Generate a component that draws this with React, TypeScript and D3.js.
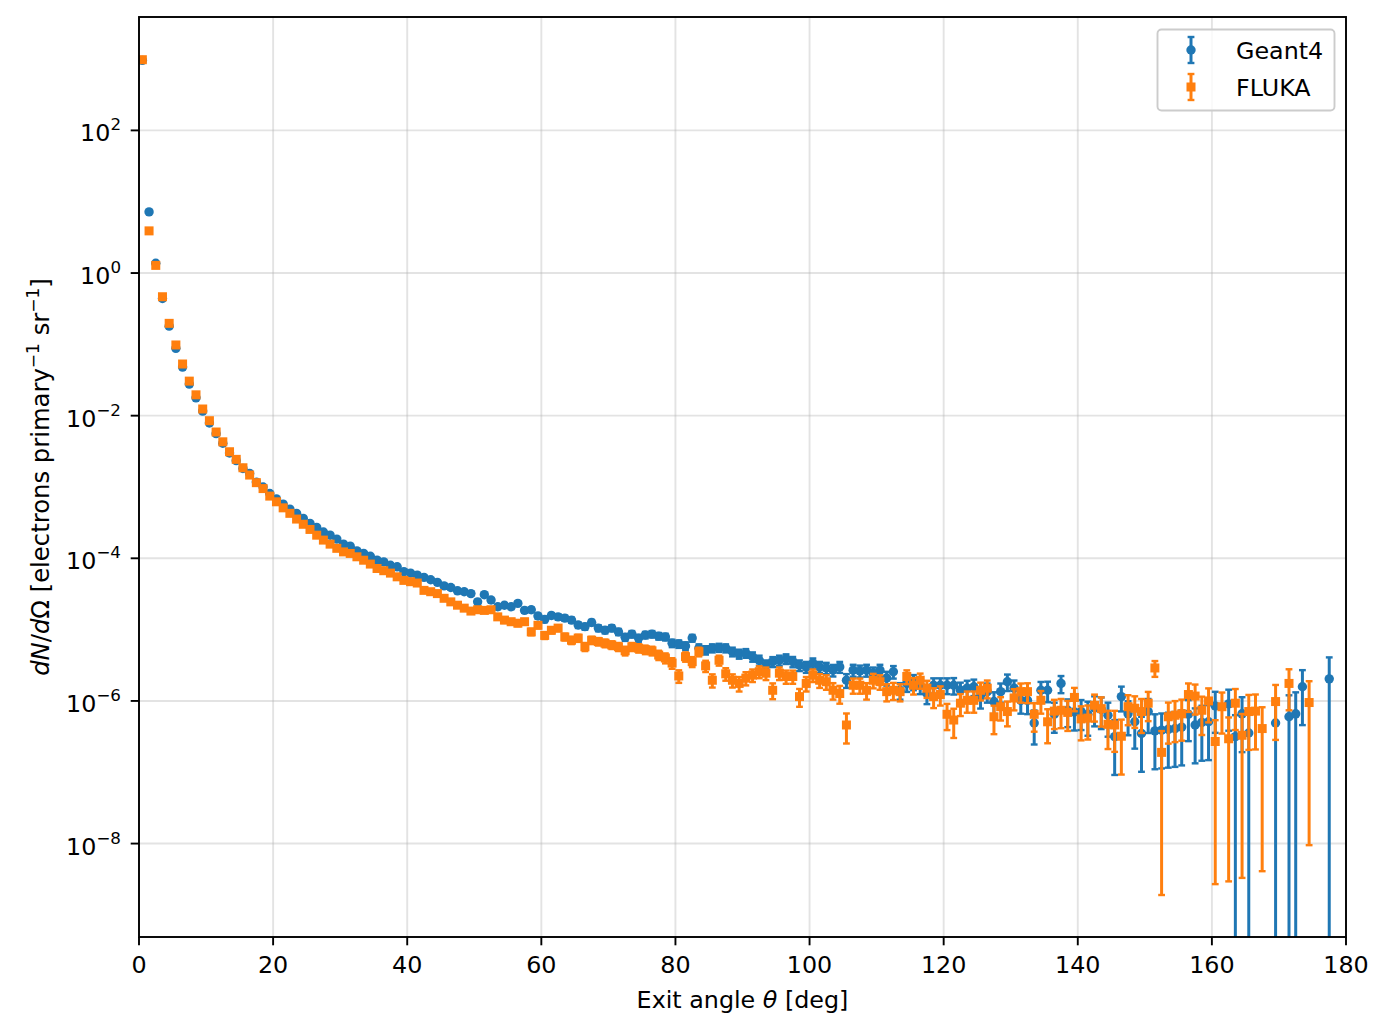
import React from "react";
import * as d3 from "d3";

// 1 degree bins, centres 0.5 ... 179.5
const binCenters = d3.range(0.5, 180, 1);

// dN/dOmega (null = empty bin)
const geant4: (number | null)[] = [
  9.6e2, 7.2, 1.37, 0.44, 0.18, 0.088, 0.048, 0.0277, 0.0178, 0.0116,
  0.0079, 0.0056, 0.0041, 0.003, 0.00234, 0.00182, 0.00155, 0.00117, 0.001, 8.1e-4,
  6.8e-4, 5.75e-4, 4.9e-4, 4.27e-4, 3.63e-4, 3.09e-4, 2.71e-4, 2.34e-4, 2.11e-4, 1.86e-4,
  1.58e-4, 1.48e-4, 1.27e-4, 1.17e-4, 1.07e-4, 9.44e-5, 8.9e-5, 8.0e-5, 7.6e-5, 6.5e-5,
  6.2e-5, 5.8e-5, 5.4e-5, 5.0e-5, 4.6e-5, 4.1e-5, 3.9e-5, 3.5e-5, 3.4e-5, 3.2e-5,
  2.45e-5, 3.09e-5, 2.6e-5, 2.09e-5, 2.2e-5, 2.09e-5, 2.33e-5, 1.86e-5, 1.9e-5, 1.55e-5,
  1.39e-5, 1.58e-5, 1.51e-5, 1.45e-5, 1.36e-5, 1.16e-5, 1.1e-5, 1.26e-5, 1.05e-5, 9.8e-6,
  1.05e-5, 9.3e-6, 7.8e-6, 8.65e-6, 7.6e-6, 8.4e-6, 8.65e-6, 8.1e-6, 7.9e-6, 6.45e-6,
  6.3e-6, 5.9e-6, 7.6e-6, 5.5e-6, 5.16e-6, 5.5e-6, 5.6e-6, 5.5e-6, 4.9e-6, 4.57e-6,
  4.68e-6, 4.17e-6, 3.72e-6, 3.16e-6, 3.55e-6, 3.72e-6, 3.9e-6, 3.55e-6, 3.16e-6, 3.0e-6,
  3.4e-6, 3.0e-6, 2.9e-6, 2.7e-6, 3.0e-6, 1.95e-6, 2.7e-6, 2.63e-6, 2.7e-6, 2.45e-6,
  2.7e-6, 2.1e-6, 2.57e-6, 1.41e-6, 1.76e-6, 1.86e-6, 1.66e-6, 1.27e-6, 1.66e-6, 1.66e-6,
  1.66e-6, 1.66e-6, 1.41e-6, 1.51e-6, 1.58e-6, 1.15e-6, 1.35e-6, 9.8e-7, 1.35e-6, 1.86e-6,
  1.51e-6, 1.02e-6, 1.02e-6, 4.9e-7, 1.41e-6, 1.41e-6, 6.5e-7, 1.76e-6, 7.4e-7, 7.0e-7,
  7.1e-7, 6.5e-7, 8.0e-7, 7.6e-7, 6.3e-7, 3.16e-7, 1.15e-6, 6.6e-7, 5.1e-7, 3.5e-7,
  7.1e-7, 3.8e-7, 3.9e-7, 4.0e-7, 4.1e-7, 4.3e-7, 6.5e-7, 4.6e-7, 5.0e-7, 5.1e-7,
  8.5e-7, null, 9.1e-7, 3.16e-7, 6.6e-7, 3.55e-7, null, null, null, 4.9e-7,
  null, 6.0e-7, 6.6e-7, 1.58e-6, null, null, null, 2.04e-6, null, null,
];

// relative statistical error of each Geant4 bin
const geant4RelErr: (number | null)[] = [
  0.001, 0.002, 0.003, 0.003, 0.004, 0.004, 0.005, 0.005, 0.006, 0.006,
  0.008, 0.009, 0.01, 0.011, 0.012, 0.013, 0.014, 0.015, 0.017, 0.018,
  0.019, 0.02, 0.021, 0.022, 0.024, 0.025, 0.026, 0.028, 0.029, 0.031,
  0.033, 0.034, 0.036, 0.037, 0.039, 0.041, 0.042, 0.044, 0.045, 0.047,
  0.047, 0.049, 0.05, 0.052, 0.053, 0.056, 0.057, 0.06, 0.06, 0.062,
  0.069, 0.063, 0.067, 0.073, 0.071, 0.073, 0.068, 0.076, 0.075, 0.082,
  0.086, 0.08, 0.082, 0.083, 0.085, 0.092, 0.094, 0.087, 0.096, 0.098,
  0.095, 0.1, 0.11, 0.104, 0.11, 0.105, 0.104, 0.107, 0.108, 0.12,
  0.12, 0.125, 0.11, 0.13, 0.134, 0.13, 0.13, 0.13, 0.14, 0.145,
  0.14, 0.15, 0.16, 0.17, 0.16, 0.16, 0.155, 0.165, 0.17, 0.175,
  0.16, 0.175, 0.18, 0.185, 0.175, 0.22, 0.19, 0.19, 0.19, 0.2,
  0.19, 0.22, 0.2, 0.26, 0.24, 0.24, 0.25, 0.29, 0.25, 0.25,
  0.25, 0.26, 0.28, 0.27, 0.26, 0.32, 0.3, 0.35, 0.3, 0.26,
  0.28, 0.35, 0.36, 0.5, 0.31, 0.32, 0.45, 0.27, 0.42, 0.45,
  0.45, 0.5, 0.45, 0.47, 0.5, 0.71, 0.38, 0.5, 0.58, 0.71,
  0.5, 0.71, 0.71, 0.71, 0.71, 0.71, 0.58, 0.71, 0.71, 0.71,
  0.58, null, 0.58, 1, 0.71, 1, null, null, null, 1,
  null, 1, 1, 0.71, null, null, null, 1, null, null,
];

const fluka: (number | null)[] = [
  9.8e2, 3.9, 1.28, 0.465, 0.197, 0.098, 0.053, 0.0305, 0.0196, 0.0124,
  0.0085, 0.0059, 0.0043, 0.00312, 0.00244, 0.00186, 0.00147, 0.00115, 9.5e-4, 7.45e-4,
  6.2e-4, 5.1e-4, 4.27e-4, 3.55e-4, 3.0e-4, 2.54e-4, 2.11e-4, 1.8e-4, 1.58e-4, 1.38e-4,
  1.23e-4, 1.17e-4, 1.05e-4, 9.4e-5, 8.3e-5, 7.2e-5, 6.7e-5, 6.2e-5, 5.5e-5, 4.9e-5,
  4.7e-5, 4.5e-5, 3.55e-5, 3.4e-5, 3.2e-5, 2.75e-5, 2.45e-5, 2.2e-5, 2.0e-5, 1.82e-5,
  1.9e-5, 1.86e-5, 1.9e-5, 1.51e-5, 1.36e-5, 1.29e-5, 1.23e-5, 1.29e-5, 9.3e-6, 1.15e-5,
  8.3e-6, 9.8e-6, 1.05e-5, 7.9e-6, 7.1e-6, 7.6e-6, 5.75e-6, 7.1e-6, 6.8e-6, 6.45e-6,
  6.1e-6, 5.75e-6, 5.05e-6, 5.75e-6, 5.5e-6, 5.25e-6, 5.05e-6, 4.4e-6, 4.0e-6, 3.4e-6,
  2.24e-6, 4.17e-6, 3.55e-6, 4.9e-6, 3.1e-6, 1.95e-6, 3.72e-6, 2.4e-6, 1.95e-6, 1.76e-6,
  2.09e-6, 2.3e-6, 2.57e-6, 2.45e-6, 1.41e-6, 2.45e-6, 2.2e-6, 2.2e-6, 1.15e-6, 1.76e-6,
  2.3e-6, 1.95e-6, 1.86e-6, 1.41e-6, 1.27e-6, 4.6e-7, 1.66e-6, 1.66e-6, 1.41e-6, 1.95e-6,
  1.86e-6, 1.35e-6, 1.41e-6, 1.35e-6, 2.2e-6, 1.66e-6, 1.95e-6, 1.51e-6, 1.15e-6, 1.23e-6,
  6.5e-7, 5.4e-7, 9.3e-7, 1.02e-6, 1.02e-6, 1.41e-6, 1.51e-6, 6.0e-7, 8.3e-7, 7.1e-7,
  1.1e-6, 1.35e-6, 1.35e-6, 6.5e-7, 1.02e-6, 5.1e-7, 7.2e-7, 7.4e-7, 6.9e-7, 1.12e-6,
  5.6e-7, 5.75e-7, 8.7e-7, 7.8e-7, 4.7e-7, 4.6e-7, 3.2e-7, 8.3e-7, 7.9e-7, 7.1e-7,
  9.3e-7, 2.9e-6, 1.9e-7, 6.0e-7, 6.3e-7, 6.6e-7, 1.23e-6, 1.17e-6, 7.4e-7, 1.0e-6,
  2.7e-7, 8.3e-7, 2.95e-7, 9.3e-7, 3.3e-7, 7.1e-7, 7.2e-7, 4.1e-7, null, 9.8e-7,
  null, 1.76e-6, null, null, 9.5e-7, null, null, null, null, null,
];

const flukaRelErr: (number | null)[] = [
  0.001, 0.003, 0.004, 0.004, 0.005, 0.005, 0.006, 0.006, 0.007, 0.007,
  0.008, 0.009, 0.011, 0.012, 0.013, 0.014, 0.015, 0.016, 0.018, 0.019,
  0.02, 0.022, 0.023, 0.025, 0.026, 0.027, 0.029, 0.031, 0.032, 0.034,
  0.036, 0.037, 0.039, 0.041, 0.043, 0.045, 0.047, 0.048, 0.05, 0.052,
  0.054, 0.055, 0.06, 0.062, 0.063, 0.067, 0.07, 0.072, 0.075, 0.078,
  0.078, 0.078, 0.077, 0.085, 0.088, 0.09, 0.092, 0.09, 0.105, 0.095,
  0.11, 0.1, 0.098, 0.11, 0.118, 0.115, 0.13, 0.118, 0.12, 0.124,
  0.124, 0.13, 0.14, 0.13, 0.135, 0.138, 0.14, 0.15, 0.16, 0.17,
  0.2, 0.15, 0.16, 0.14, 0.18, 0.21, 0.16, 0.2, 0.21, 0.23,
  0.21, 0.2, 0.19, 0.2, 0.25, 0.2, 0.21, 0.21, 0.28, 0.23,
  0.2, 0.22, 0.23, 0.26, 0.28, 0.45, 0.24, 0.24, 0.26, 0.23,
  0.23, 0.27, 0.27, 0.27, 0.22, 0.26, 0.24, 0.27, 0.31, 0.3,
  0.4, 0.44, 0.34, 0.33, 0.33, 0.28, 0.28, 0.43, 0.36, 0.38,
  0.33, 0.3, 0.31, 0.43, 0.35, 0.5, 0.44, 0.44, 0.45, 0.36,
  0.5, 0.5, 0.41, 0.44, 0.55, 0.58, 0.71, 0.45, 0.47, 0.5,
  0.44, 0.25, 0.99, 0.58, 0.58, 0.58, 0.43, 0.45, 0.55, 0.5,
  0.99, 0.58, 0.99, 0.58, 0.99, 0.71, 0.71, 0.99, null, 0.71,
  null, 0.58, null, null, 0.99, null, null, null, null, null,
];

const xTicks = [0, 20, 40, 60, 80, 100, 120, 140, 160, 180];
const yTickExponents = [-8, -6, -4, -2, 0, 2];

const W = 1373;
const H = 1028;
const left = 139;
const right = 1346;
const top = 17;
const bottom = 937;

const FONT = "DejaVu Sans";
const BLUE = "#1f77b4";
const ORANGE = "#ff7f0e";

const x = d3.scaleLinear().domain([0, 180]).range([left, right]);
const y = d3.scaleLog().domain([10 ** -9.31, 10 ** 3.59]).range([bottom, top]);

const sup = (e: number) => (e < 0 ? "\u2212" + Math.abs(e) : String(e));

type Series = { values: (number | null)[]; errs: (number | null)[]; color: string; marker: "circle" | "square" };

const BAR_W = 3;
const CAP_W = 2.4;
const CAP = 3.4;

const ErrorSeries: React.FC<{ s: Series }> = ({ s }) => {
  const pts = s.values
    .map((v, i) => {
      if (v == null) return null;
      const r = s.errs[i] ?? 0;
      const lo = v * (1 - r);
      return {
        cx: x(binCenters[i]),
        cy: y(v),
        hi: y(v * (1 + r)),
        lo: lo > 0 ? y(lo) : bottom + 20,
        hasLoCap: lo > 0,
      };
    })
    .filter((p) => p !== null) as { cx: number; cy: number; hi: number; lo: number; hasLoCap: boolean }[];
  return (
    <g>
      {pts.map((p, i) => (
        <line key={"b" + i} x1={p.cx} x2={p.cx} y1={p.lo} y2={p.hi} stroke={s.color} strokeWidth={BAR_W} />
      ))}
      {pts.map((p, i) => (
        <g key={"c" + i} stroke={s.color} strokeWidth={CAP_W}>
          <line x1={p.cx - CAP} x2={p.cx + CAP} y1={p.hi} y2={p.hi} />
          {p.hasLoCap && <line x1={p.cx - CAP} x2={p.cx + CAP} y1={p.lo} y2={p.lo} />}
        </g>
      ))}
      {pts.map((p, i) =>
        s.marker === "circle" ? (
          <circle key={"m" + i} cx={p.cx} cy={p.cy} r={4.7} fill={s.color} />
        ) : (
          <rect key={"m" + i} x={p.cx - 4.5} y={p.cy - 4.5} width={9} height={9} fill={s.color} />
        )
      )}
    </g>
  );
};

const LegendHandle: React.FC<{ cx: number; cy: number; color: string; marker: "circle" | "square" }> = ({ cx, cy, color, marker }) => (
  <g stroke={color}>
    <line x1={cx} x2={cx} y1={cy - 13} y2={cy + 13} strokeWidth={BAR_W} />
    <line x1={cx - CAP} x2={cx + CAP} y1={cy - 13} y2={cy - 13} strokeWidth={CAP_W} />
    <line x1={cx - CAP} x2={cx + CAP} y1={cy + 13} y2={cy + 13} strokeWidth={CAP_W} />
    {marker === "circle" ? (
      <circle cx={cx} cy={cy} r={4.7} fill={color} stroke="none" />
    ) : (
      <rect x={cx - 4.5} y={cy - 4.5} width={9} height={9} fill={color} stroke="none" />
    )}
  </g>
);

export default function App() {
  const series: Series[] = [
    { values: geant4, errs: geant4RelErr, color: BLUE, marker: "circle" },
    { values: fluka, errs: flukaRelErr, color: ORANGE, marker: "square" },
  ];
  return (
    <svg
      width={W}
      height={H}
      style={{ position: "absolute", left: 0, top: 0, display: "block" }}
      fontFamily={FONT}
    >
      <rect width={W} height={H} fill="#fff" />
      <defs>
        <clipPath id="plotArea">
          <rect x={left} y={top} width={right - left} height={bottom - top} />
        </clipPath>
      </defs>

      {/* grid */}
      <g stroke="#b0b0b0" strokeOpacity={0.35} strokeWidth={1.9}>
        {xTicks.map((t) => (
          <line key={"gx" + t} x1={x(t)} x2={x(t)} y1={top} y2={bottom} />
        ))}
        {yTickExponents.map((e) => (
          <line key={"gy" + e} x1={left} x2={right} y1={y(10 ** e)} y2={y(10 ** e)} />
        ))}
      </g>

      <g clipPath="url(#plotArea)">
        {series.map((s, i) => (
          <ErrorSeries key={i} s={s} />
        ))}
      </g>

      {/* spines */}
      <rect x={left} y={top} width={right - left} height={bottom - top} fill="none" stroke="#000" strokeWidth={1.9} />

      {/* x ticks */}
      {xTicks.map((t) => (
        <g key={"xt" + t}>
          <line x1={x(t)} x2={x(t)} y1={bottom} y2={bottom + 8.3} stroke="#000" strokeWidth={1.9} />
          <text x={x(t)} y={972.5} fontSize={23.8} textAnchor="middle" fill="#000">
            {t}
          </text>
        </g>
      ))}

      {/* y ticks */}
      {yTickExponents.map((e) => {
        const ty = y(10 ** e);
        return (
          <g key={"yt" + e}>
            <line x1={left - 8.3} x2={left} y1={ty} y2={ty} stroke="#000" strokeWidth={1.9} />
            <text x={121} y={ty + 11} fontSize={23.8} textAnchor="end" fill="#000">
              10
              <tspan dy={-11} fontSize={16.7}>
                {sup(e)}
              </tspan>
            </text>
          </g>
        );
      })}

      {/* axis labels */}
      <text x={(left + right) / 2} y={1008} fontSize={23.8} textAnchor="middle" fill="#000">
        Exit angle <tspan fontStyle="italic">θ</tspan> [deg]
      </text>
      <text
        transform={`translate(49,${(top + bottom) / 2}) rotate(-90)`}
        fontSize={24.3}
        textAnchor="middle"
        fill="#000"
      >
        <tspan fontStyle="italic">dN</tspan>/<tspan fontStyle="italic">d</tspan>Ω [electrons primary
        <tspan dy={-10} fontSize={17}>{"\u22121"}</tspan>
        <tspan dy={10}> sr</tspan>
        <tspan dy={-10} fontSize={17}>{"\u22121"}</tspan>
        <tspan dy={10}>]</tspan>
      </text>

      {/* legend */}
      <g>
        <rect x={1157.5} y={29.5} width={177} height={81} rx={4} fill="#fff" fillOpacity={0.8} stroke="#cccccc" strokeWidth={1.9} />
        <LegendHandle cx={1191} cy={50} color={BLUE} marker="circle" />
        <LegendHandle cx={1191} cy={87} color={ORANGE} marker="square" />
        <text x={1236} y={59} fontSize={23.8} fill="#000">
          Geant4
        </text>
        <text x={1236} y={96} fontSize={23.8} fill="#000">
          FLUKA
        </text>
      </g>
    </svg>
  );
}
